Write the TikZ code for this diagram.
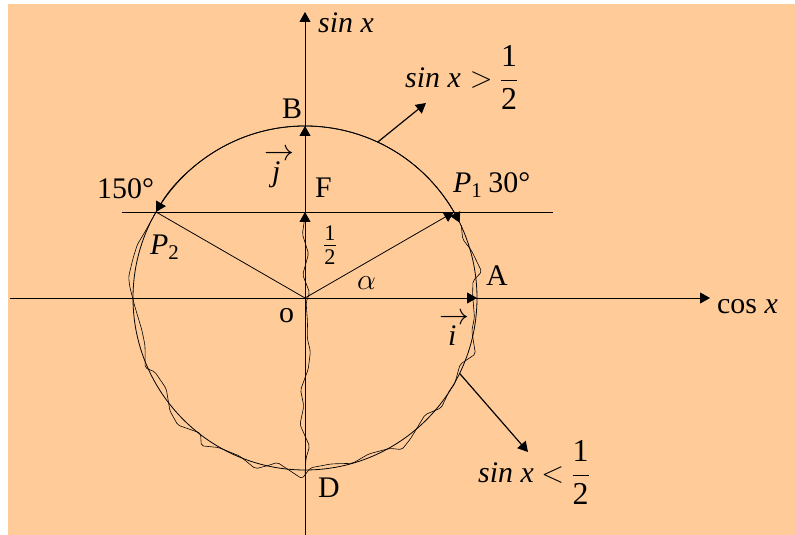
\documentclass[tikz,border=0pt]{standalone}
\usepackage{fix-cm}
\usepackage{amsmath}
\usepackage{fontspec}
\setmainfont{Liberation Serif}
\usetikzlibrary{arrows.meta,calc,decorations.pathmorphing}

\definecolor{peach}{RGB}{255,204,153}
\newcommand{\arrowover}[3]{\makebox[0pt][l]{\hspace{#1}\raisebox{#2}{$\rightarrow$}}\textit{#3}}

\begin{document}
\begin{tikzpicture}[
    x=1bp, y=1bp,
    font=\fontsize{30}{34}\selectfont,
    thinline/.style={line width=0.8bp},
    tri/.style={-{Triangle[length=10bp,width=11bp]}},
    lbl/.style={inner sep=0pt, anchor=base west},
    wobble/.style={decorate, decoration={random steps, segment length=17bp, amplitude=9bp}, rounded corners=2bp, line width=0.6bp}
]
\def\rad{172}
\pgfmathsetseed{11}

% Background
\useasboundingbox (-305,-237) rectangle (490,298);
\fill[peach] (-297,-237) rectangle (490,294);

% Points on the circle
\coordinate (O) at (0,0);
\coordinate (A) at (0:\rad);
\coordinate (B) at (90:\rad);
\coordinate (D) at (270:\rad);
\coordinate (F) at (0,\rad/2);
\coordinate (P1) at (30:\rad);
\coordinate (P2) at (150:\rad);
\coordinate (xl) at (-295,0);
\coordinate (xr) at (405,0);
\coordinate (yb) at (0,-237);
\coordinate (yt) at (0,286);
\coordinate (hl) at (-183,\rad/2);
\coordinate (hr) at (248,\rad/2);

% Axes and the line sin x = 1/2
\draw[thinline, tri] (xl) -- (xr);
\draw[thinline, tri] (yb) -- (yt);
\draw[thinline] (hl) -- (hr);

% Circle and arcs
\draw[thinline] (O) circle (\rad);
\draw[thinline, tri] (P1) arc (30:150:\rad);
\draw[thinline, tri] (P1) arc (30:26:\rad);

% Vectors
\draw[thinline, tri] (O) -- (A);
\draw[thinline, tri] (O) -- (B);
\draw[thinline, tri] (O) -- (F);
\draw[thinline, tri] (O) -- (P1);
\draw[thinline] (O) -- (P2);

% Hand drawn marks
\draw[wobble] (P2) arc (150:385:\rad);
\draw[wobble, decoration={amplitude=6bp}] ($(D)+(0,-6)$) -- ($(F)+(0,-4)$);

% Leader arrows
\coordinate (g1) at (65:\rad);
\coordinate (t1) at (121,195);
\coordinate (g2) at (-26:\rad);
\coordinate (t2) at (223,-154);
\draw[line width=1.2bp, tri] (g1) -- (t1);
\draw[line width=1.2bp, tri] (g2) -- (t2);

% Labels
\node[lbl] (sinlbl) at (13,265) {\textit{sin x}};
\node[lbl] (coslbl) at (412,-16) {cos \textit{x}};
\node[lbl] (gtlbl) at (100,210) {\textit{sin x}\hspace{0.3em}$>$\hspace{0.25em}{\fontsize{32}{36}\selectfont$\dfrac{\text{1}}{\text{2}}$}};
\node[lbl] (ltlbl) at (173,-185) {\textit{sin x}\hspace{0.25em}$<$\hspace{0.25em}{\fontsize{32}{36}\selectfont$\dfrac{\text{1}}{\text{2}}$}};
\node[lbl] (deglbl) at (-208,99) {150°};
\node[lbl] (p1lbl) at (148,105) {\textit{P}$_{\text{1}}$\hspace{0.2em}30°};
\node[lbl] (p2lbl) at (-155,43) {\textit{P}$_{\text{2}}$};
\node[lbl] (blbl) at (-23,179) {B};
\node[lbl] (flbl) at (10,100) {F};
\node[lbl] (albl) at (181,12) {A};
\node[lbl] (olbl) at (-26,-25) {o};
\node[lbl] (dlbl) at (13,-200) {D};
\node[lbl] (alpha) at (52,8) {$\alpha$};
\node[inner sep=0pt, font=\fontsize{32}{36}\selectfont] (half) at (25,53) {$\frac{\text{1}}{\text{2}}$};
\node[lbl] (jvec) at (-33,116) {\arrowover{-8bp}{21bp}{j}};
\node[lbl] (ivec) at (143,-48) {\arrowover{-9bp}{21bp}{i}};
\end{tikzpicture}
\end{document}
